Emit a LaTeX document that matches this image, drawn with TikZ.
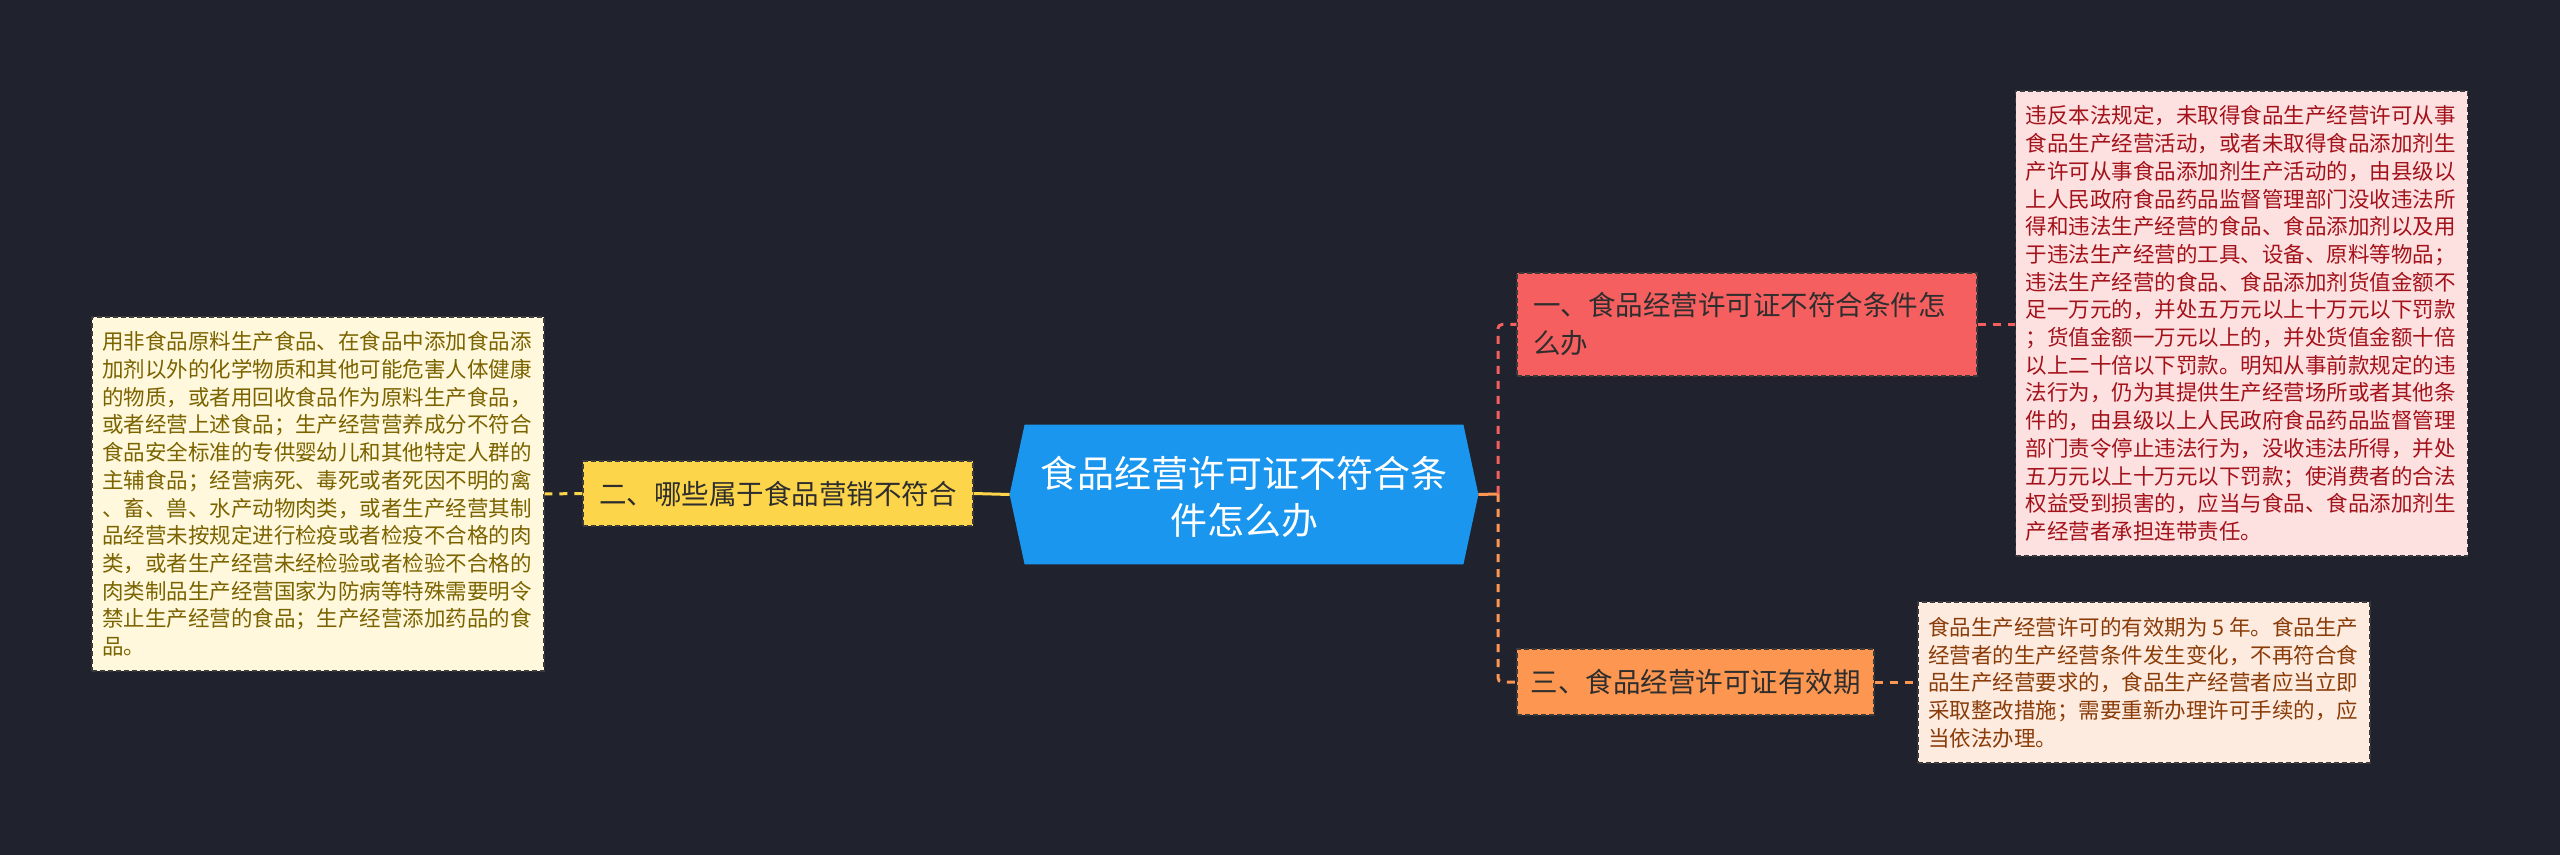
\documentclass[tikz,border=0pt]{standalone}
\usepackage{fontspec}
\setmainfont{Noto Sans CJK SC}
\definecolor{bg}{HTML}{20232E}
\definecolor{cblue}{HTML}{1A96EE}
\definecolor{cyellow}{HTML}{FDD54A}
\definecolor{cred}{HTML}{F65F5F}
\definecolor{corange}{HTML}{FD9650}
\definecolor{cpale}{HTML}{FFF8DC}
\definecolor{cpink}{HTML}{FDE1E1}
\definecolor{cpeach}{HTML}{FEEBE0}
\definecolor{tpale}{HTML}{7B6300}
\definecolor{tpink}{HTML}{A3121A}
\definecolor{tpeach}{HTML}{8A3C08}
\definecolor{tdark}{HTML}{2E2E2E}
\definecolor{bord}{HTML}{3A3A3A}
\tikzset{
  boxborder/.style={draw=bord, dash pattern=on 2.5pt off 1.5pt, line width=0.6pt},
  textbox/.style={boxborder, align=left, inner xsep=5pt, inner ysep=0pt,
    text width=216pt, minimum width=226pt,
    font=\fontsize{10.75pt}{13.85pt}\selectfont},
  branch/.style={boxborder, inner ysep=0pt, text=tdark,
    font=\fontsize{13.75pt}{19pt}\selectfont},
  conn/.style={line width=1.5pt},
  condash/.style={line width=1.5pt, dash pattern=on 4pt off 3.5pt},
}
\begin{document}
\begin{tikzpicture}[x=0.5pt,y=-0.5pt]
\useasboundingbox (0,0) rectangle (2560,855);
\fill[bg] (0,0) rectangle (2560,855);

% center node
\node[minimum width=234pt, minimum height=69.5pt, inner sep=0pt] (c) at (1244,494.5) {};
\fill[cblue] (c.west) -- ([xshift=7.5pt]c.north west) -- ([xshift=-7.5pt]c.north east)
  -- (c.east) -- ([xshift=-7.5pt]c.south east) -- ([xshift=7.5pt]c.south west) -- cycle;
\node[text=white, align=center, font=\fontsize{18.5pt}{23.5pt}\selectfont] (ctext) at (1244,497)
  {食品经营许可证不符合条\\件怎么办};

% branch nodes
\node[branch, fill=cyellow, minimum width=195pt, minimum height=32.5pt] (yel) at (778,493.5)
  {二、哪些属于食品营销不符合};
\node[branch, fill=cred, align=left, text width=214pt, inner xsep=8pt, minimum height=51.5pt] (red) at (1747,324.5)
  {一、食品经营许可证不符合条件怎\\么办};
\node[branch, fill=corange, minimum width=178.5pt, minimum height=33pt] (ora) at (1695.5,682)
  {三、食品经营许可证有效期};

% text boxes
\node[textbox, fill=cpale, text=tpale, minimum height=177pt] (pale) at (318,494)
  {用非食品原料生产食品、在食品中添加食品添\\
加剂以外的化学物质和其他可能危害人体健康\\
的物质，或者用回收食品作为原料生产食品，\\
或者经营上述食品；生产经营营养成分不符合\\
食品安全标准的专供婴幼儿和其他特定人群的\\
主辅食品；经营病死、毒死或者死因不明的禽\\
、畜、兽、水产动物肉类，或者生产经营其制\\
品经营未按规定进行检疫或者检疫不合格的肉\\
类，或者生产经营未经检验或者检验不合格的\\
肉类制品生产经营国家为防病等特殊需要明令\\
禁止生产经营的食品；生产经营添加药品的食\\
品。};

\node[textbox, fill=cpink, text=tpink, minimum height=232.5pt] (pink) at (2241.5,323.5)
  {违反本法规定，未取得食品生产经营许可从事\\
食品生产经营活动，或者未取得食品添加剂生\\
产许可从事食品添加剂生产活动的，由县级以\\
上人民政府食品药品监督管理部门没收违法所\\
得和违法生产经营的食品、食品添加剂以及用\\
于违法生产经营的工具、设备、原料等物品；\\
违法生产经营的食品、食品添加剂货值金额不\\
足一万元的，并处五万元以上十万元以下罚款\\
；货值金额一万元以上的，并处货值金额十倍\\
以上二十倍以下罚款。明知从事前款规定的违\\
法行为，仍为其提供生产经营场所或者其他条\\
件的，由县级以上人民政府食品药品监督管理\\
部门责令停止违法行为，没收违法所得，并处\\
五万元以上十万元以下罚款；使消费者的合法\\
权益受到损害的，应当与食品、食品添加剂生\\
产经营者承担连带责任。};

\node[textbox, fill=cpeach, text=tpeach, minimum height=80.5pt] (peach) at (2144,682.5)
  {\mbox{食品生产经营许可的有效期为\hspace{2.5pt}5\hspace{2.5pt}年。食品生产}\\
经营者的生产经营条件发生变化，不再符合食\\
品生产经营要求的，食品生产经营者应当立即\\
采取整改措施；需要重新办理许可手续的，应\\
当依法办理。};

% connectors
\coordinate (br) at (1498,494);
\draw[conn, cyellow] (c.west) -- (yel.east);
\draw[condash, cyellow] (yel.west) -- (pale.east);
\draw[conn, corange] (c.east) -- (br);
\draw[condash, cred, rounded corners=2pt] (br) |- (red.west);
\draw[condash, corange, rounded corners=2pt] (br) |- (ora.west);
\draw[condash, cred] (red.east) -- (pink.west |- red.east);
\draw[condash, corange] (ora.east) -- (peach.west |- ora.east);
\end{tikzpicture}
\end{document}
